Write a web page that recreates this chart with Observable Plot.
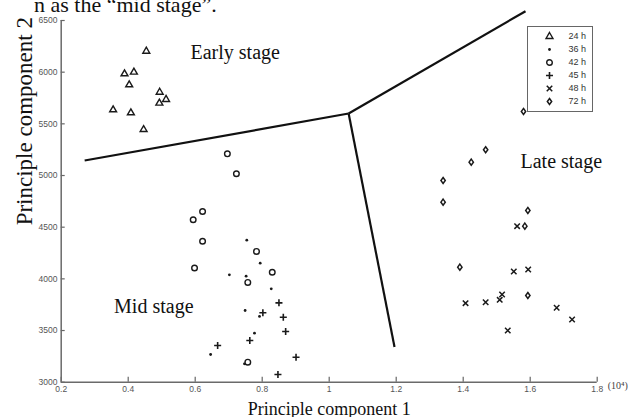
<!DOCTYPE html>
<html><head><meta charset="utf-8">
<script src="https://cdn.jsdelivr.net/npm/d3@7"></script>
<script src="https://cdn.jsdelivr.net/npm/@observablehq/plot@0.6"></script>
<style>
html,body{margin:0;padding:0;background:#fff;overflow:hidden}
#wrap{position:relative;width:631px;height:417px;overflow:hidden}
#cap{position:absolute;left:34px;top:-6px;font-family:'Liberation Serif','Times New Roman',serif;font-size:22px;line-height:22px;white-space:nowrap;color:#111;z-index:2}
#legend{position:absolute;left:527px;top:26px;width:64px;height:84px;border:1px solid #666;background:#fff;z-index:2}
#legend svg, #wrap > svg{display:block}
</style></head><body>
<div id="wrap"><div id="cap">n as the “mid stage”.</div><div id="legend"></div></div>
<script>
// ---- data ----
const series = ["24 h","36 h","42 h","45 h","48 h","72 h"];
const x24 = [0.454,0.389,0.417,0.403,0.494,0.513,0.493,0.355,0.408,0.446];
const y24 = [6203,5984,6000,5878,5806,5736,5700,5636,5607,5445];
const x36 = [0.754,0.794,0.702,0.752,0.827,0.749,0.792,0.777,0.646,0.747];
const y36 = [4374,4152,4039,4026,3904,3694,3636,3474,3268,3178];
const x42 = [0.696,0.723,0.622,0.594,0.622,0.783,0.598,0.830,0.757,0.757];
const y42 = [5210,5017,4652,4572,4364,4265,4105,4064,3965,3194];
const x45 = [0.850,0.802,0.863,0.870,0.763,0.667,0.901,0.847];
const y45 = [3768,3672,3629,3491,3404,3355,3242,3075];
const x48 = [1.561,1.551,1.594,1.407,1.467,1.509,1.516,1.679,1.725,1.533];
const y48 = [4510,4071,4090,3765,3774,3797,3849,3720,3607,3500];
const x72 = [1.580,1.467,1.424,1.340,1.340,1.593,1.584,1.390,1.593];
const y72 = [5620,5249,5129,4952,4742,4662,4510,4113,3839];

const boundaryJunction = {x: 1.058, y: 5600};
const boundaryEndX = [0.27, 1.586, 1.195];
const boundaryEndY = [5145, 6590, 3340];

const xTicks = [0.2,0.4,0.6,0.8,1.0,1.2,1.4,1.6,1.8];
const xTickLabels = ["0.2","0.4","0.6","0.8","1","1.2","1.4","1.6","1.8"];
const yTicks = [3000,3500,4000,4500,5000,5500,6000,6500];
const yTickLabels = ["3000","3500","4000","4500","5000","5500","6000","6500"];

const regionNames = ["Early stage","Late stage","Mid stage"];
const regionX = [0.586, 1.571, 0.595];
const regionY = [6132, 5068, 3671];

const xLabel = "Principle component 1";
const yLabel = "Principle component 2";
const xUnit = "(10⁴)";

// ---- styles ----
const serif = "'Liberation Serif','Times New Roman',serif";
const sans = "'Liberation Sans',Arial,sans-serif";
const ink = "#1a1a1a";
const diamondTall = {draw(ctx, size){const h=Math.sqrt(size/1.44), w=h*0.72; ctx.moveTo(0,-h); ctx.lineTo(w,0); ctx.lineTo(0,h); ctx.lineTo(-w,0); ctx.closePath();}};
const symStyle = [
  {symbol:"triangle2", r:3.3, fill:"none", stroke:ink, strokeWidth:1.4},
  {symbol:"circle", r:1.4, fill:ink, stroke:"none", strokeWidth:0},
  {symbol:"circle", r:2.8, fill:"none", stroke:ink, strokeWidth:1.4},
  {symbol:"plus", r:2.4, fill:"none", stroke:ink, strokeWidth:1.6},
  {symbol:"times", r:2.6, fill:"none", stroke:ink, strokeWidth:1.5},
  {symbol:diamondTall, r:2.05, fill:"none", stroke:ink, strokeWidth:1.5}
];

const zip = (xs, ys) => xs.map((x,i)=>({x, y: ys[i]}));
const groups = [zip(x24,y24), zip(x36,y36), zip(x42,y42), zip(x45,y45), zip(x48,y48), zip(x72,y72)];
const boundaries = boundaryEndX.map((x,i)=>({x1: boundaryJunction.x, y1: boundaryJunction.y, x2: x, y2: boundaryEndY[i]}));
const regions = regionNames.map((t,i)=>({t, x: regionX[i], y: regionY[i]}));
const xFmt = new Map(xTicks.map((v,i)=>[v, xTickLabels[i]]));
const yFmt = new Map(yTicks.map((v,i)=>[v, yTickLabels[i]]));

const chart = Plot.plot({
  width: 631, height: 417,
  marginLeft: 60.7, marginRight: 34.3, marginTop: 20, marginBottom: 35.3,
  style: {fontFamily: sans, fontSize: "8.5px", background: "transparent", overflow: "visible"},
  x: {domain: [0.2, 1.8]},
  y: {domain: [3000, 6500]},
  marks: [
    Plot.axisX(xTicks, {anchor: "bottom", tickSize: -5, tickPadding: 8.5, tickFormat: d => xFmt.get(d), fontSize: 8.5, fill: "#555", stroke: "#666", strokeWidth: 1.2, label: null}),
    Plot.axisY(yTicks, {anchor: "left", tickSize: -4, tickPadding: 7.7, tickFormat: d => yFmt.get(d), fontSize: 8.5, fill: "#555", stroke: "#666", strokeWidth: 1.2, label: null}),
    Plot.ruleY([3000], {stroke: "#6a6a6a", strokeWidth: 1.5}),
    Plot.ruleX([0.2], {stroke: "#6a6a6a", strokeWidth: 1.5}),
    Plot.link(boundaries, {x1: "x1", y1: "y1", x2: "x2", y2: "y2", stroke: "#111", strokeWidth: 2.2}),
    ...groups.map((g,i) => Plot.dot(g, {x: "x", y: "y", symbol: symStyle[i].symbol, r: symStyle[i].r, fill: symStyle[i].fill, stroke: symStyle[i].stroke, strokeWidth: symStyle[i].strokeWidth})),
    Plot.text([regions[0]], {x: "x", y: "y", text: "t", textAnchor: "start", lineAnchor: "bottom", fontSize: 20, fontFamily: serif, fill: "#111"}),
    Plot.text([regions[1]], {x: "x", y: "y", text: "t", textAnchor: "start", lineAnchor: "bottom", fontSize: 20, fontFamily: serif, fill: "#111"}),
    Plot.text([regions[2]], {x: "x", y: "y", text: "t", textAnchor: "end", lineAnchor: "bottom", fontSize: 20, fontFamily: serif, fill: "#111"}),
    Plot.text([xLabel], {frameAnchor: "bottom", dy: 32.8, lineAnchor: "bottom", fontSize: 18, fontFamily: serif, fill: "#111"}),
    Plot.text([yLabel], {frameAnchor: "left", rotate: -90, dx: -29.7, dy: 24, lineAnchor: "bottom", fontSize: 23, fontFamily: serif, fill: "#111"}),
    Plot.text([xUnit], {frameAnchor: "bottom-right", dx: 10.5, dy: 6.5, textAnchor: "start", lineAnchor: "bottom", fontSize: 10, fontFamily: serif, fill: "#444"})
  ]
});
document.getElementById("wrap").appendChild(chart);

const legend = Plot.plot({
  width: 64, height: 84, margin: 0,
  style: {fontFamily: sans, fontSize: "9px", background: "transparent"},
  x: {domain: [0,1], axis: null},
  y: {type: "point", domain: series, axis: null, padding: 0, insetTop: 7, insetBottom: 7.7},
  marks: [
    ...series.map((s,i) => Plot.dot([s], {y: d => d, frameAnchor: "left", dx: 21, symbol: symStyle[i].symbol, r: symStyle[i].r, fill: symStyle[i].fill, stroke: symStyle[i].stroke, strokeWidth: symStyle[i].strokeWidth})),
    Plot.text(series, {y: d => d, text: d => d, frameAnchor: "left", dx: 40, textAnchor: "start", fontSize: 9, fill: "#333"})
  ]
});
document.getElementById("legend").appendChild(legend);
</script>
</body></html>
